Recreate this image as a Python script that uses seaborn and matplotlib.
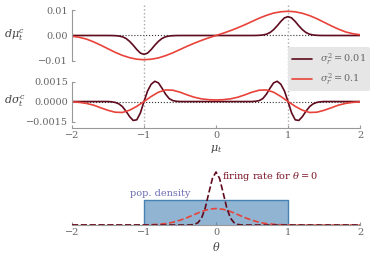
import matplotlib
matplotlib.use('Agg')
import matplotlib.pyplot as plt
import numpy as np
import seaborn as sns

# data (derivatives in units of 1e-3)
x_fine = np.linspace(-2, 2, 81)   # step 0.05
x_red = np.linspace(-2, 2, 41)    # step 0.1

dmu_dark = ([0] * 11 +
            [-0.02, -0.07, -0.2, -0.5, -1.15, -2.3, -3.8, -5.5, -6.9, -7.4,
             -6.9, -5.5, -3.8, -2.3, -1.15, -0.5, -0.2, -0.07, -0.02] +
            [0] * 21 +
            [0.02, 0.07, 0.2, 0.5, 1.15, 2.3, 3.8, 5.5, 6.9, 7.4,
             6.9, 5.5, 3.8, 2.3, 1.15, 0.5, 0.2, 0.07, 0.02] +
            [0] * 11)
dmu_red = [-0.3, -0.7, -1.4, -2.5, -3.8, -5.2, -6.6, -7.8, -8.7, -9.3, -9.5,
           -9.3, -8.8, -7.9, -6.8, -5.5, -4.2, -3.0, -1.9, -0.9, 0.0,
           0.9, 1.9, 3.0, 4.2, 5.5, 6.8, 7.9, 8.8, 9.3,
           9.5, 9.3, 8.7, 7.8, 6.6, 5.2, 3.8, 2.5, 1.4, 0.7, 0.3]

dsig_dark = ([0] * 11 +
             [-0.02, -0.065, -0.17, -0.38, -0.72, -1.13, -1.42, -1.37, -0.85, 0.0,
              0.8, 1.3, 1.52, 1.4, 1.0, 0.55, 0.22, 0.07, 0.02] +
             [0] * 21 +
             [0.02, 0.07, 0.22, 0.55, 1.0, 1.4, 1.52, 1.3, 0.8, 0.0,
              -0.85, -1.37, -1.42, -1.13, -0.72, -0.38, -0.17, -0.065, -0.02] +
             [0] * 11)
dsig_red = [-0.02, -0.06, -0.14, -0.27, -0.47, -0.66, -0.80, -0.82, -0.65, -0.36, 0.0,
            0.38, 0.70, 0.87, 0.85, 0.70, 0.50, 0.32, 0.20, 0.14, 0.12,
            0.14, 0.20, 0.32, 0.50, 0.70, 0.85, 0.87, 0.70, 0.38,
            0.0, -0.36, -0.65, -0.82, -0.80, -0.66, -0.47, -0.27, -0.14, -0.06, -0.02]

# bottom panel: population density and firing rates
box_x = [-1, 1]
box_y = [0.5, 0.5]
rate_dark = ([0] * 33 +
             [0.002, 0.011, 0.047, 0.14, 0.34, 0.64, 0.93, 1.06,
              0.93, 0.64, 0.34, 0.14, 0.047, 0.011, 0.002] +
             [0] * 33)
rate_red = ([0] * 8 +
            [0.0002, 0.0008, 0.002, 0.006, 0.0135, 0.028, 0.054, 0.095, 0.148, 0.21, 0.27, 0.314,
             0.33,
             0.314, 0.27, 0.21, 0.148, 0.095, 0.054, 0.028, 0.0135, 0.006, 0.002, 0.0008, 0.0002] +
            [0] * 8)

labels = ['$\\sigma_r^2 = 0.01$', '$\\sigma_r^2 = 0.1$']
dark = '#5e0b1d'
red = '#e8433a'
grey = '#666666'

sns.set_style("ticks")
plt.rcParams['font.family'] = ['DejaVu Serif']
plt.rcParams['mathtext.fontset'] = 'dejavuserif'
plt.rcParams.update({'font.size': 7, 'text.color': grey, 'axes.labelcolor': '#444444',
                     'xtick.color': '#999999', 'ytick.color': '#999999',
                     'xtick.labelcolor': grey, 'ytick.labelcolor': grey,
                     'axes.edgecolor': '#999999', 'axes.linewidth': 0.8,
                     'xtick.direction': 'in', 'ytick.direction': 'in',
                     'xtick.major.size': 2.5, 'ytick.major.size': 2.5,
                     'xtick.major.pad': 2, 'ytick.major.pad': 3})

fig = plt.figure(figsize=(3.74, 2.57), dpi=100)
ax1 = fig.add_axes([0.1925, 0.7315, 0.7701, 0.2529])
ax2 = fig.add_axes([0.1925, 0.5136, 0.7701, 0.2179])
ax3 = fig.add_axes([0.1925, 0.1245, 0.7701, 0.2335])

# top: d mu
sns.lineplot(x=x_fine, y=np.array(dmu_dark) * 1e-3, ax=ax1, color=dark, lw=1.2, label=labels[0])
sns.lineplot(x=x_red, y=np.array(dmu_red) * 1e-3, ax=ax1, color=red, lw=1.2, label=labels[1])
# middle: d sigma
sns.lineplot(x=x_fine, y=np.array(dsig_dark) * 1e-3, ax=ax2, color=dark, lw=1.2)
sns.lineplot(x=x_red, y=np.array(dsig_red) * 1e-3, ax=ax2, color=red, lw=1.2)

for ax in [ax1, ax2]:
    ax.axhline(0, color='#333333', ls=':', lw=0.8, zorder=0)
    for v in [-1, 1]:
        ax.axvline(v, color='#aaaaaa', ls=':', lw=1, zorder=0)
    ax.set_xlim(-2, 2)
    sns.despine(ax=ax)

ax1.set_ylim(-0.01314, 0.01235)
ax1.spines['bottom'].set_visible(False)
ax1.set_xticks([])
ax1.spines['left'].set_bounds(-0.01, 0.01)
ax1.set_yticks([-0.01, 0, 0.01])
ax1.set_yticklabels(['\u22120.01', '0.00', '0.01'])
ax1.set_ylabel('$d\\mu_t^c$', rotation=0, ha='center', va='center', fontsize=8)
ax1.yaxis.set_label_coords(-0.198, 0.5155)

ax2.set_ylim(-0.00176, 0.00244)
ax2.spines['left'].set_bounds(-0.0015, 0.0015)
ax2.spines['bottom'].set_position(('outward', 2.2))
ax2.spines['bottom'].set_bounds(-2, 2)
ax2.set_yticks([-0.0015, 0, 0.0015])
ax2.set_yticklabels(['\u22120.0015', '0.0000', '0.0015'])
ax2.set_xticks([-2, -1, 0, 1, 2])
ax2.set_xlabel('$\\mu_t$', labelpad=2, fontsize=8)
ax2.set_ylabel('$d\\sigma_t^c$', rotation=0, ha='center', va='center', fontsize=8)
ax2.yaxis.set_label_coords(-0.198, 0.419)

if ax1.get_legend() is not None:
    ax1.get_legend().remove()
handles = ax1.get_lines()[:2]
fig.legend(handles, labels, loc='upper left', bbox_to_anchor=(0.770, 0.817),
           frameon=True, facecolor='#e6e6e6', edgecolor='none', framealpha=1,
           fontsize=7, handlelength=2.0, handletextpad=0.8, labelspacing=0.55,
           borderpad=0.45, borderaxespad=0)

# bottom: population density and tuning
ax3.fill_between(box_x, box_y, color='steelblue', alpha=0.6, lw=0)
ax3.plot([-1, -1, 1, 1], [0, 0.5, 0.5, 0], color='steelblue', lw=1)
sns.lineplot(x=x_red, y=rate_red, ax=ax3, color=red, lw=1.2, linestyle='--')
sns.lineplot(x=x_fine, y=rate_dark, ax=ax3, color=dark, lw=1.2, linestyle='--')
ax3.text(-1.2, 0.62, 'pop. density', color='#6b6bb3', ha='left', va='center', fontsize=7)
ax3.text(0.09, 0.96, 'firing rate for $\\theta = 0$', color='#7a1326', ha='left', va='center', fontsize=7)
ax3.set_xlim(-2, 2)
ax3.set_ylim(0, 1.2)
sns.despine(ax=ax3, left=True)
ax3.set_yticks([])
ax3.set_xticks([-2, -1, 0, 1, 2])
ax3.set_xlabel('$\\theta$', labelpad=2, fontsize=8)

fig.savefig('out.png', dpi=100)
